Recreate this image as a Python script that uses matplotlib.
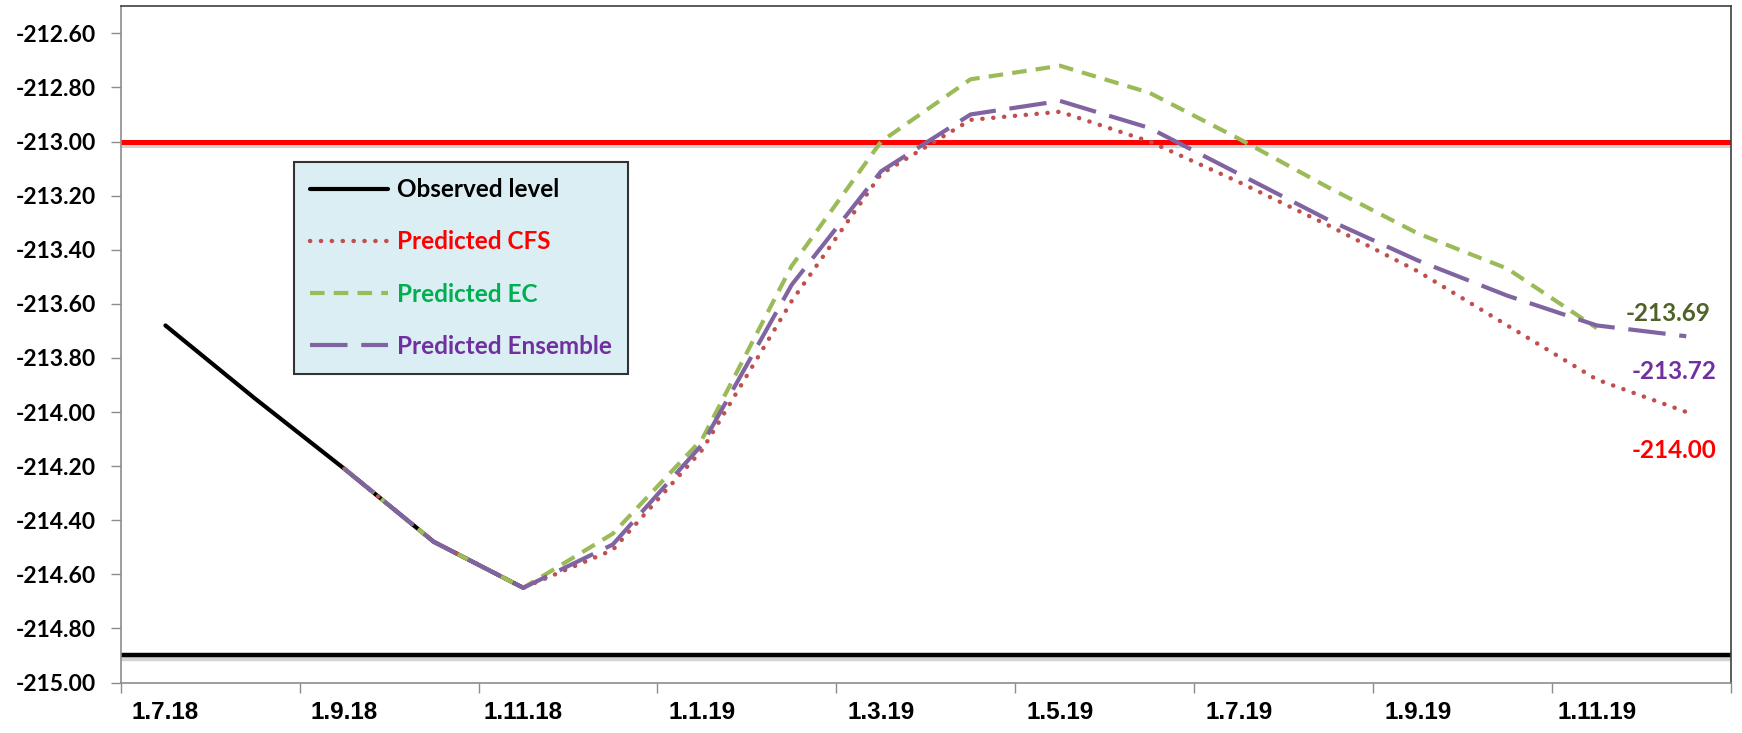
import numpy as np
import matplotlib.pyplot as plt
import matplotlib.patheffects as pe

# monthly categories on the x axis
months = ['1.7.18', '1.8.18', '1.9.18', '1.10.18', '1.11.18', '1.12.18',
          '1.1.19', '1.2.19', '1.3.19', '1.4.19', '1.5.19', '1.6.19',
          '1.7.19', '1.8.19', '1.9.19', '1.10.19', '1.11.19', '1.12.19']

# observed level, Jul-Nov 2018
observed = [-213.68, -213.95, -214.21, -214.48, -214.65]

# forecasts, all starting from 1.9.18
forecast_start = months.index('1.9.18')
cfs = [-214.21, -214.48, -214.65, -214.51, -214.14, -213.59, -213.12, -212.92,
       -212.89, -213.00, -213.15, -213.31, -213.48, -213.68, -213.88, -214.00]
ec = [-214.21, -214.48, -214.65, -214.45, -214.10, -213.46, -213.00, -212.77,
      -212.72, -212.82, -212.99, -213.17, -213.34, -213.47, -213.69]
ensemble = [-214.21, -214.48, -214.65, -214.49, -214.12, -213.53, -213.11, -212.90,
            -212.85, -212.95, -213.12, -213.29, -213.44, -213.57, -213.68, -213.72]

upper_line = -213.00
lower_line = -214.90

yticks = np.arange(-215.0, -212.59, 0.2)

label_font = 'Lato'

fig = plt.figure(figsize=(17.42, 7.33), dpi=100)
ax = fig.add_axes([120.7 / 1742, 50.5 / 733, (1731 - 120.7) / 1742, 676.25 / 733])

shadow = [pe.SimpleLineShadow(offset=(0, -2.5), shadow_color='0.5', alpha=0.35),
          pe.Normal()]
ax.axhline(upper_line, color='#FF0000', lw=3.6, zorder=2, path_effects=shadow)
ax.axhline(lower_line, color='black', lw=3.2, zorder=2, path_effects=shadow)

ax.plot(months[:len(observed)], observed, color='black', lw=3.0,
        solid_capstyle='round', label='Observed level', zorder=3)

fc_x = months[forecast_start:]
ax.plot(fc_x[:len(cfs)], cfs, color='#C0504D', lw=3.2, linestyle=(0, (0.05, 2.4)),
        dash_capstyle='round', label='Predicted CFS', zorder=4)
ax.plot(fc_x[:len(ec)], ec, color='#9BBB59', lw=3.0, linestyle=(0, (3.5, 2.2)),
        label='Predicted EC', zorder=5)
ax.plot(fc_x[:len(ensemble)], ensemble, color='#8064A2', lw=3.0,
        linestyle=(0, (9.0, 3.3)), label='Predicted Ensemble', zorder=6)

# end-of-forecast values
ends = [(ec, '-213.69', '#4F6228', (71, 15)),
        (ensemble, '-213.72', '#7030A0', (-12, -35)),
        (cfs, '-214.00', '#FF0000', (-12, -39))]
for series, text, color, offset in ends:
    ax.annotate(text, xy=(forecast_start + len(series) - 1, series[-1]),
                xytext=offset, textcoords='offset pixels', ha='center', va='center',
                color=color, fontsize=17.5, fontweight='bold', family=label_font)

ax.set_ylim(-215.0, -212.5)
ax.set_yticks(yticks)
ax.set_yticklabels([f'{v:.2f}' for v in yticks], fontsize=16.5, fontweight='bold',
                   family=label_font)

ax.set_xlim(-0.5, len(months) - 0.5)
ax.set_xticks(np.arange(-0.5, len(months), 2))
ax.set_xticklabels([])
ax.set_xticks(np.arange(0, len(months), 2), minor=True)
ax.set_xticklabels(months[::2], minor=True, fontsize=17.5, fontweight='bold',
                   family='Liberation Sans')

ax.tick_params(axis='y', length=7, width=1, color='#8c8c8c', pad=11)
ax.tick_params(axis='x', which='major', length=7.5, width=1, color='#8c8c8c')
ax.tick_params(axis='x', which='minor', length=0, pad=13)

for side in ['left', 'bottom']:
    ax.spines[side].set_color('#8c8c8c')
    ax.spines[side].set_linewidth(1.2)
for side in ['top', 'right']:
    ax.spines[side].set_color('#404040')
    ax.spines[side].set_linewidth(1.2)

leg = ax.legend(loc='upper left', bbox_to_anchor=(0.1076, 0.770), borderaxespad=0,
                prop={'family': label_font, 'weight': 'bold', 'size': 17.5},
                labelcolor=['black', '#FF0000', '#00B050', '#7030A0'],
                handlelength=3.2, handletextpad=0.35, labelspacing=1.2,
                borderpad=0.68, fancybox=False, facecolor='#DAEEF3',
                edgecolor='#333333', framealpha=1)
leg.get_frame().set_linewidth(1.5)

fig.savefig('out.png', dpi=100)
